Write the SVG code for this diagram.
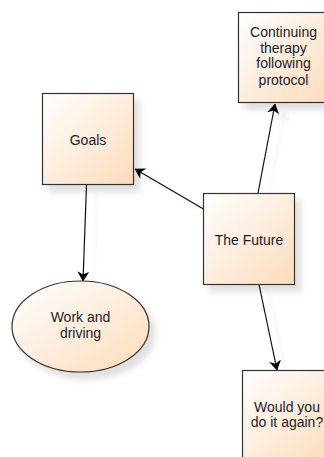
<svg xmlns="http://www.w3.org/2000/svg" width="324" height="457" viewBox="0 0 324 457">
<defs>
<linearGradient id="fill" x1="0" y1="0" x2="1" y2="1">
<stop offset="0" stop-color="#ffffff"/>
<stop offset="1" stop-color="#fcdcbb"/>
</linearGradient>
<filter id="sh" x="-20%" y="-20%" width="150%" height="150%">
<feDropShadow dx="6" dy="7" stdDeviation="3" flood-color="#000" flood-opacity="0.12"/>
</filter>
<filter id="lsh" x="-50%" y="-50%" width="200%" height="200%">
<feDropShadow dx="10" dy="8" stdDeviation="1.5" flood-color="#000" flood-opacity="0.07"/>
</filter>
<marker id="arr" viewBox="0 0 10 12" refX="9.5" refY="6" markerWidth="10" markerHeight="12" markerUnits="userSpaceOnUse" orient="auto">
<path d="M0,0 L10,6 L0,12 L3,6 Z" fill="#000"/>
</marker>
</defs>
<style>
.n{fill:url(#fill);stroke:#333;stroke-width:1.2;filter:url(#sh)}
.t{font-family:"Liberation Sans",Arial,sans-serif;font-size:14px;fill:#1c1c2a;text-anchor:middle}
.c{stroke:#111;stroke-width:1.2;fill:none;marker-end:url(#arr)}
</style>
<g id="connectors" filter="url(#lsh)">
<line class="c" x1="203.5" y1="209" x2="135" y2="169"/>
<line class="c" x1="258" y1="193" x2="275" y2="104"/>
<line class="c" x1="86.5" y1="185" x2="83" y2="281"/>
<line class="c" x1="259" y1="284.5" x2="277" y2="370"/>
</g>
<g id="goals">
<rect class="n" x="42.5" y="93.5" width="91" height="91"/>
<text class="t" x="88" y="145">Goals</text>
</g>
<g id="continuing">
<rect class="n" x="238.5" y="12.5" width="90" height="90"/>
<text class="t" x="283.5" y="37">Continuing</text>
<text class="t" x="283.5" y="52.5">therapy</text>
<text class="t" x="283.5" y="68">following</text>
<text class="t" x="283.5" y="84.5">protocol</text>
</g>
<g id="future">
<rect class="n" x="203.5" y="193.5" width="91" height="91"/>
<text class="t" x="249" y="244.5">The Future</text>
</g>
<g id="work">
<ellipse class="n" cx="80.5" cy="326.5" rx="68.5" ry="45.5"/>
<text class="t" x="80.5" y="321.5">Work and</text>
<text class="t" x="80.5" y="337.5">driving</text>
</g>
<g id="would">
<rect class="n" x="242.5" y="370.5" width="90" height="90"/>
<text class="t" x="287" y="411.5">Would you</text>
<text class="t" x="287" y="426.5">do it again?</text>
</g>
</svg>
